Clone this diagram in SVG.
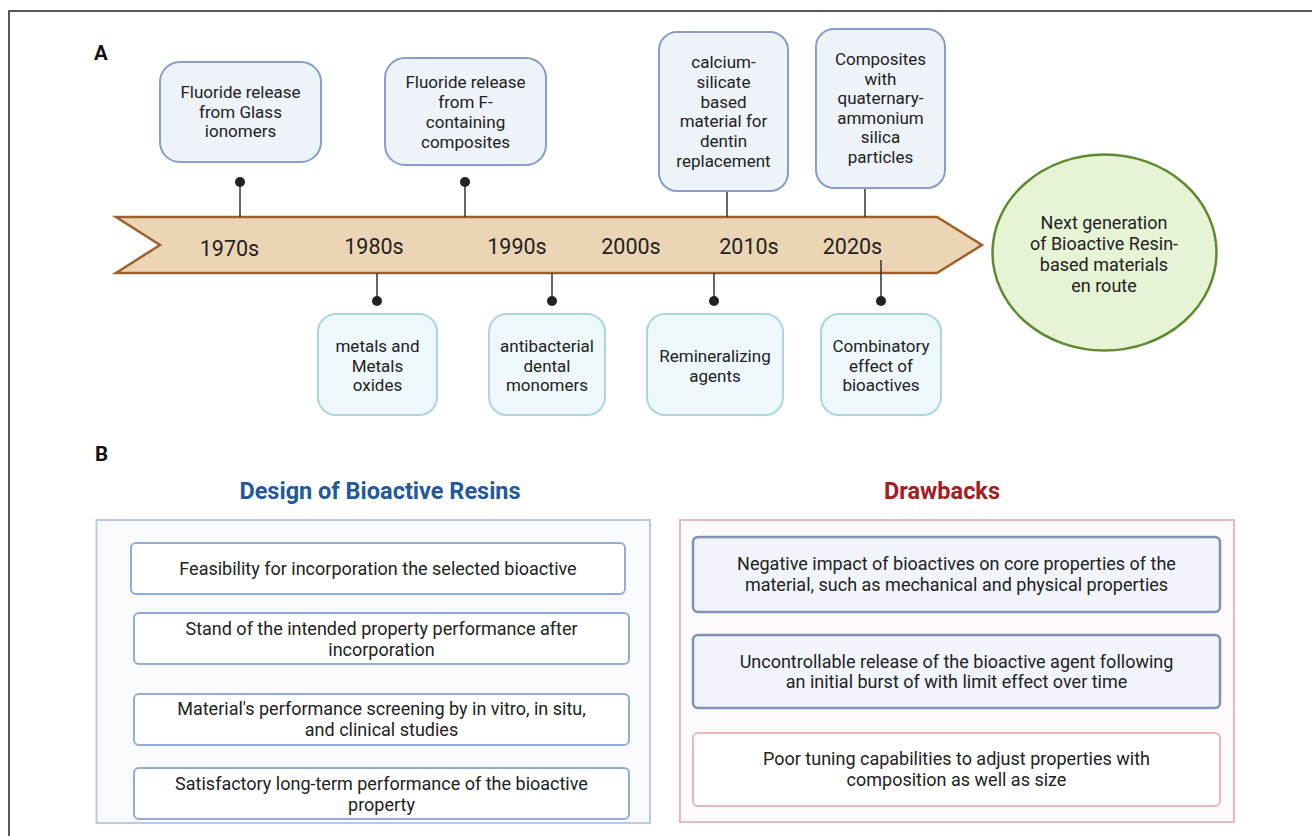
<svg xmlns="http://www.w3.org/2000/svg" width="1312" height="836" viewBox="0 0 1312 836">
<style>
text{font-family:Roboto,"Liberation Sans",sans-serif;fill:#222;}
.t17{font-size:17px;text-anchor:middle;}
.t18{font-size:18px;text-anchor:middle;}
.yr{font-size:21.5px;text-anchor:middle;}
.lbl{font-size:20.5px;font-weight:700;fill:#111;}
.ttl{font-size:23.5px;font-weight:700;text-anchor:middle;}
.topbox{fill:#eef2f9;stroke:#8a9dc8;stroke-width:2;}
.botbox{fill:#eef8fb;stroke:#abd6df;stroke-width:2;}
.lbox{fill:#fff;stroke:#93abd9;stroke-width:2;}
.rbox{fill:#f1f4fb;stroke:#7e90bb;stroke-width:2.5;}
.pbox{fill:#fff;stroke:#e9b5bc;stroke-width:2;}
.stem{stroke:#333;stroke-width:1.5;fill:none;}
.dot{fill:#222;}
</style>
<g id="frame"><path d="M9,836 L9,11 L1312,11" fill="none" stroke="#222" stroke-width="1.5"/></g>
<text class="lbl" x="94" y="59.5">A</text>
<text class="lbl" x="95" y="461">B</text>
<g id="timeline">
<path d="M116,217 L937,217 L982,245 L937,273 L116,273 L160,245 Z" fill="#ecd5b5" stroke="#a0602c" stroke-width="2.5" stroke-linejoin="miter"/>
<text class="yr" x="229.5" y="256">1970s</text>
<text class="yr" x="374" y="254">1980s</text>
<text class="yr" x="517" y="254">1990s</text>
<text class="yr" x="631" y="254">2000s</text>
<text class="yr" x="749" y="254">2010s</text>
<text class="yr" x="852.5" y="254">2020s</text>
</g>
<g id="connectors">
<line class="stem" x1="240" y1="182" x2="240" y2="217"/><circle class="dot" cx="240" cy="182" r="5"/>
<line class="stem" x1="465" y1="182" x2="465" y2="217"/><circle class="dot" cx="465" cy="182" r="5"/>
<line class="stem" x1="727" y1="191" x2="727" y2="217"/>
<line class="stem" x1="865" y1="188" x2="865" y2="217"/>
<line class="stem" x1="377" y1="273" x2="377" y2="301"/><circle class="dot" cx="377" cy="301" r="5"/>
<line class="stem" x1="552" y1="273" x2="552" y2="301"/><circle class="dot" cx="552" cy="301" r="5"/>
<line class="stem" x1="714" y1="273" x2="714" y2="301"/><circle class="dot" cx="714" cy="301" r="5"/>
<line class="stem" x1="881" y1="260" x2="881" y2="301"/><circle class="dot" cx="881" cy="301" r="5"/>
</g>
<g id="n-glass"><rect class="topbox" x="160" y="62" width="161" height="100" rx="20"/>
<text class="t17"><tspan x="240.5" y="98">Fluoride release</tspan><tspan x="240.5" y="117.5">from Glass</tspan><tspan x="240.5" y="137">ionomers</tspan></text></g>
<g id="n-fcomp"><rect class="topbox" x="385" y="58" width="161" height="107" rx="20"/>
<text class="t17"><tspan x="465.5" y="88">Fluoride release</tspan><tspan x="465.5" y="108">from F-</tspan><tspan x="465.5" y="128">containing</tspan><tspan x="465.5" y="148">composites</tspan></text></g>
<g id="n-calcium"><rect class="topbox" x="659" y="32" width="129" height="159" rx="18"/>
<text class="t17"><tspan x="723.5" y="68">calcium-</tspan><tspan x="723.5" y="87.8">silicate</tspan><tspan x="723.5" y="107.6">based</tspan><tspan x="723.5" y="127.4">material for</tspan><tspan x="723.5" y="147.2">dentin</tspan><tspan x="723.5" y="167">replacement</tspan></text></g>
<g id="n-quat"><rect class="topbox" x="816" y="29" width="129" height="159" rx="18"/>
<text class="t17"><tspan x="880.5" y="65">Composites</tspan><tspan x="880.5" y="84.6">with</tspan><tspan x="880.5" y="104.2">quaternary-</tspan><tspan x="880.5" y="123.8">ammonium</tspan><tspan x="880.5" y="143.4">silica</tspan><tspan x="880.5" y="163">particles</tspan></text></g>
<g id="n-metals"><rect class="botbox" x="318" y="314" width="119" height="101" rx="18"/>
<text class="t17"><tspan x="377.5" y="352">metals and</tspan><tspan x="377.5" y="371.5">Metals</tspan><tspan x="377.5" y="391">oxides</tspan></text></g>
<g id="n-antibac"><rect class="botbox" x="489" y="314" width="116" height="101" rx="18"/>
<text class="t17"><tspan x="547" y="352">antibacterial</tspan><tspan x="547" y="371.5">dental</tspan><tspan x="547" y="391">monomers</tspan></text></g>
<g id="n-remin"><rect class="botbox" x="647" y="314" width="136" height="101" rx="18"/>
<text class="t17"><tspan x="715" y="362">Remineralizing</tspan><tspan x="715" y="382">agents</tspan></text></g>
<g id="n-combi"><rect class="botbox" x="821" y="314" width="120" height="101" rx="18"/>
<text class="t17"><tspan x="881" y="352">Combinatory</tspan><tspan x="881" y="371.5">effect of</tspan><tspan x="881" y="391">bioactives</tspan></text></g>
<g id="n-next"><ellipse cx="1104.5" cy="252.5" rx="112" ry="98" fill="#e7f3d5" stroke="#5f8a2f" stroke-width="2.5"/>
<text class="t18"><tspan x="1104" y="228.5">Next generation</tspan><tspan x="1104" y="249.5">of Bioactive Resin-</tspan><tspan x="1104" y="270.5">based materials</tspan><tspan x="1104" y="291.5">en route</tspan></text></g>
<g id="design">
<text class="ttl" x="380" y="499" style="fill:#23599a">Design of Bioactive Resins</text>
<rect x="96.5" y="520" width="553.5" height="303" fill="#f8fafd" stroke="#b9cbe4" stroke-width="2"/>
<g id="d1"><rect class="lbox" x="131" y="543" width="494" height="51" rx="5"/>
<text class="t18" x="378" y="574.5">Feasibility for incorporation the selected bioactive</text></g>
<g id="d2"><rect class="lbox" x="134" y="613" width="495" height="51" rx="5"/>
<text class="t18"><tspan x="381.5" y="634.5">Stand of the intended property performance after</tspan><tspan x="381.5" y="655.5">incorporation</tspan></text></g>
<g id="d3"><rect class="lbox" x="134" y="694" width="495" height="51" rx="5"/>
<text class="t18"><tspan x="381.5" y="714.5">Material's performance screening by in vitro, in situ,</tspan><tspan x="381.5" y="735.5">and clinical studies</tspan></text></g>
<g id="d4"><rect class="lbox" x="134" y="768" width="495" height="51" rx="5"/>
<text class="t18"><tspan x="381.5" y="789.5">Satisfactory long-term performance of the bioactive</tspan><tspan x="381.5" y="810.5">property</tspan></text></g>
</g>
<g id="drawbacks">
<text class="ttl" x="942" y="499" style="fill:#a3201f">Drawbacks</text>
<rect x="680" y="520" width="554" height="302" fill="#fefafb" stroke="#eab8bf" stroke-width="2"/>
<g id="r1"><rect class="rbox" x="693" y="537" width="527" height="75" rx="5"/>
<text class="t18"><tspan x="956.5" y="569.5">Negative impact of bioactives on core properties of the</tspan><tspan x="956.5" y="590.5">material, such as mechanical and physical properties</tspan></text></g>
<g id="r2"><rect class="rbox" x="693" y="635" width="527" height="73" rx="5"/>
<text class="t18"><tspan x="956.5" y="667.5">Uncontrollable release of the bioactive agent following</tspan><tspan x="956.5" y="688">an initial burst of with limit effect over time</tspan></text></g>
<g id="r3"><rect class="pbox" x="693" y="733" width="527" height="73" rx="5"/>
<text class="t18"><tspan x="956.5" y="764.5">Poor tuning capabilities to adjust properties with</tspan><tspan x="956.5" y="785.5">composition as well as size</tspan></text></g>
</g>
</svg>
